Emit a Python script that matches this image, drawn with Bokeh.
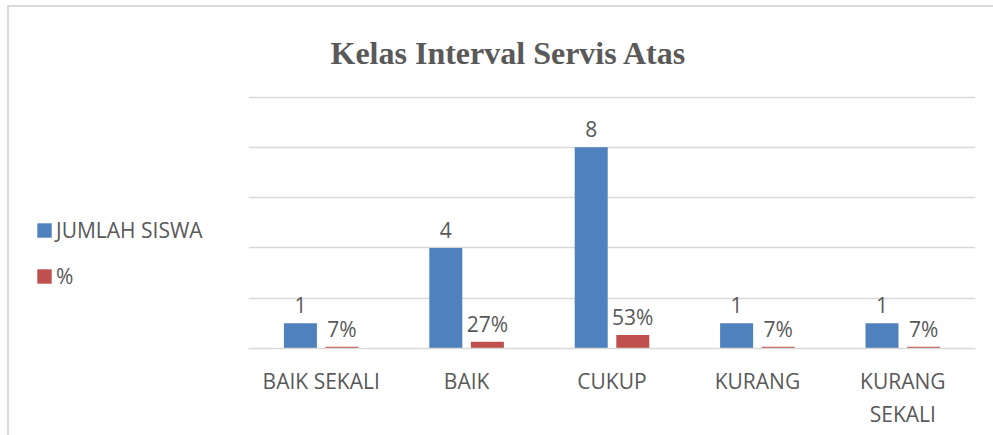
from bokeh.plotting import figure
from bokeh.models import ColumnDataSource, FactorRange, Range1d, Legend, LegendItem
from bokeh.layouts import row
from bokeh.transform import dodge
from bokeh.core.properties import value
from bokeh.embed import file_html
from bokeh.resources import INLINE

# ---- data ----
categories = ["BAIK SEKALI", "BAIK", "CUKUP", "KURANG", "KURANG\nSEKALI"]
jumlah_siswa = [1, 4, 8, 1, 1]
persen = [0.0667, 0.2667, 0.5333, 0.0667, 0.0667]
y_ticks = [0, 2, 4, 6, 8, 10]
series_names = ["JUMLAH SISWA", "%"]
title_text = "Kelas Interval Servis Atas"

BLUE = "#4F81BD"
RED = "#C0504D"
GRID = "#D9D9D9"
TXT = "#595959"
FONT = "Open Sans"
FS = "21px"

src = ColumnDataSource(dict(
    cat=categories,
    jumlah=jumlah_siswa,
    persen=persen,
    jlab=[str(v) for v in jumlah_siswa],
    plab=[f"{round(v * 100)}%" for v in persen],
))

H = 435
LW = 248          # width of the legend column
MW = 993 - LW     # width of the chart column

# ---------------- main chart ----------------
p = figure(width=MW, height=H, x_range=FactorRange(*categories), y_range=Range1d(0, 10.1),
           output_backend="svg", toolbar_location=None,
           min_border_left=0, min_border_right=18, min_border_top=94, min_border_bottom=87)
p.outline_line_color = None
p.background_fill_color = None
p.border_fill_color = None

off = 0.143
bw = 0.227
p.vbar(x=dodge("cat", -off, range=p.x_range), top="jumlah", width=bw, source=src,
       fill_color=BLUE, line_color=None)
p.vbar(x=dodge("cat", off, range=p.x_range), top="persen", width=bw, source=src,
       fill_color=RED, line_color=None)

p.text(x=dodge("cat", -off, range=p.x_range), y="jumlah", text="jlab", source=src,
       text_font=value(FONT), text_font_size=FS, text_color=TXT,
       text_align="center", text_baseline="alphabetic", y_offset=-18)
p.text(x=dodge("cat", off, range=p.x_range), y="persen", text="plab", source=src,
       text_font=value(FONT), text_font_size=FS, text_color=TXT,
       text_align="center", text_baseline="alphabetic", y_offset=-18)

p.yaxis.visible = False
p.ygrid.ticker = y_ticks
p.ygrid.grid_line_color = GRID
p.ygrid.grid_line_width = 1.5
p.xgrid.grid_line_color = None

xa = p.xaxis[0]
xa.axis_line_color = GRID
xa.axis_line_width = 1.5
xa.major_tick_line_color = None
xa.minor_tick_line_color = None
xa.major_label_text_font = FONT
xa.major_label_text_font_size = FS
xa.major_label_text_color = TXT
xa.major_label_standoff = 12

p.title.text = title_text
p.title.align = "left"
p.title.offset = 82
p.title.standoff = 48
p.title.text_font = "Liberation Serif"
p.title.text_font_style = "bold"
p.title.text_font_size = "32px"
p.title.text_color = TXT

# ---------------- legend column ----------------
lg = figure(width=LW, height=H, x_range=FactorRange(*categories), y_range=Range1d(0, 10.1),
            output_backend="svg", toolbar_location=None,
            min_border_left=0, min_border_right=0, min_border_top=0, min_border_bottom=0)
lg.axis.visible = False
lg.grid.visible = False
lg.outline_line_color = None
lg.background_fill_color = None
lg.border_fill_color = None
g1 = lg.vbar(x="cat", top="jumlah", width=bw, source=src, fill_color=BLUE, line_color=None,
             visible=False)
g2 = lg.vbar(x="cat", top="persen", width=bw, source=src, fill_color=RED, line_color=None,
             visible=False)
legend = Legend(items=[LegendItem(label=series_names[0], renderers=[g1]),
                       LegendItem(label=series_names[1], renderers=[g2])],
                location=(35, 58), orientation="vertical",
                glyph_width=18, glyph_height=18, label_height=27, label_standoff=3,
                spacing=18, padding=0, margin=0,
                border_line_color=None, background_fill_alpha=0,
                inactive_fill_alpha=0,
                label_text_font=FONT, label_text_font_size=FS, label_text_color=TXT)
lg.add_layout(legend, "center")

layout = row(lg, p, spacing=0)
# light-grey frame of the chart box (left and top edges are visible in the window)
layout.styles = {
    "background": ("linear-gradient(#D9D9D9,#D9D9D9) 7px 5px / 2px 600px no-repeat, "
                   "linear-gradient(#D9D9D9,#D9D9D9) 7px 5px / 1200px 2px no-repeat, white"),
}
open("out.html", "w").write(file_html(layout, INLINE))
